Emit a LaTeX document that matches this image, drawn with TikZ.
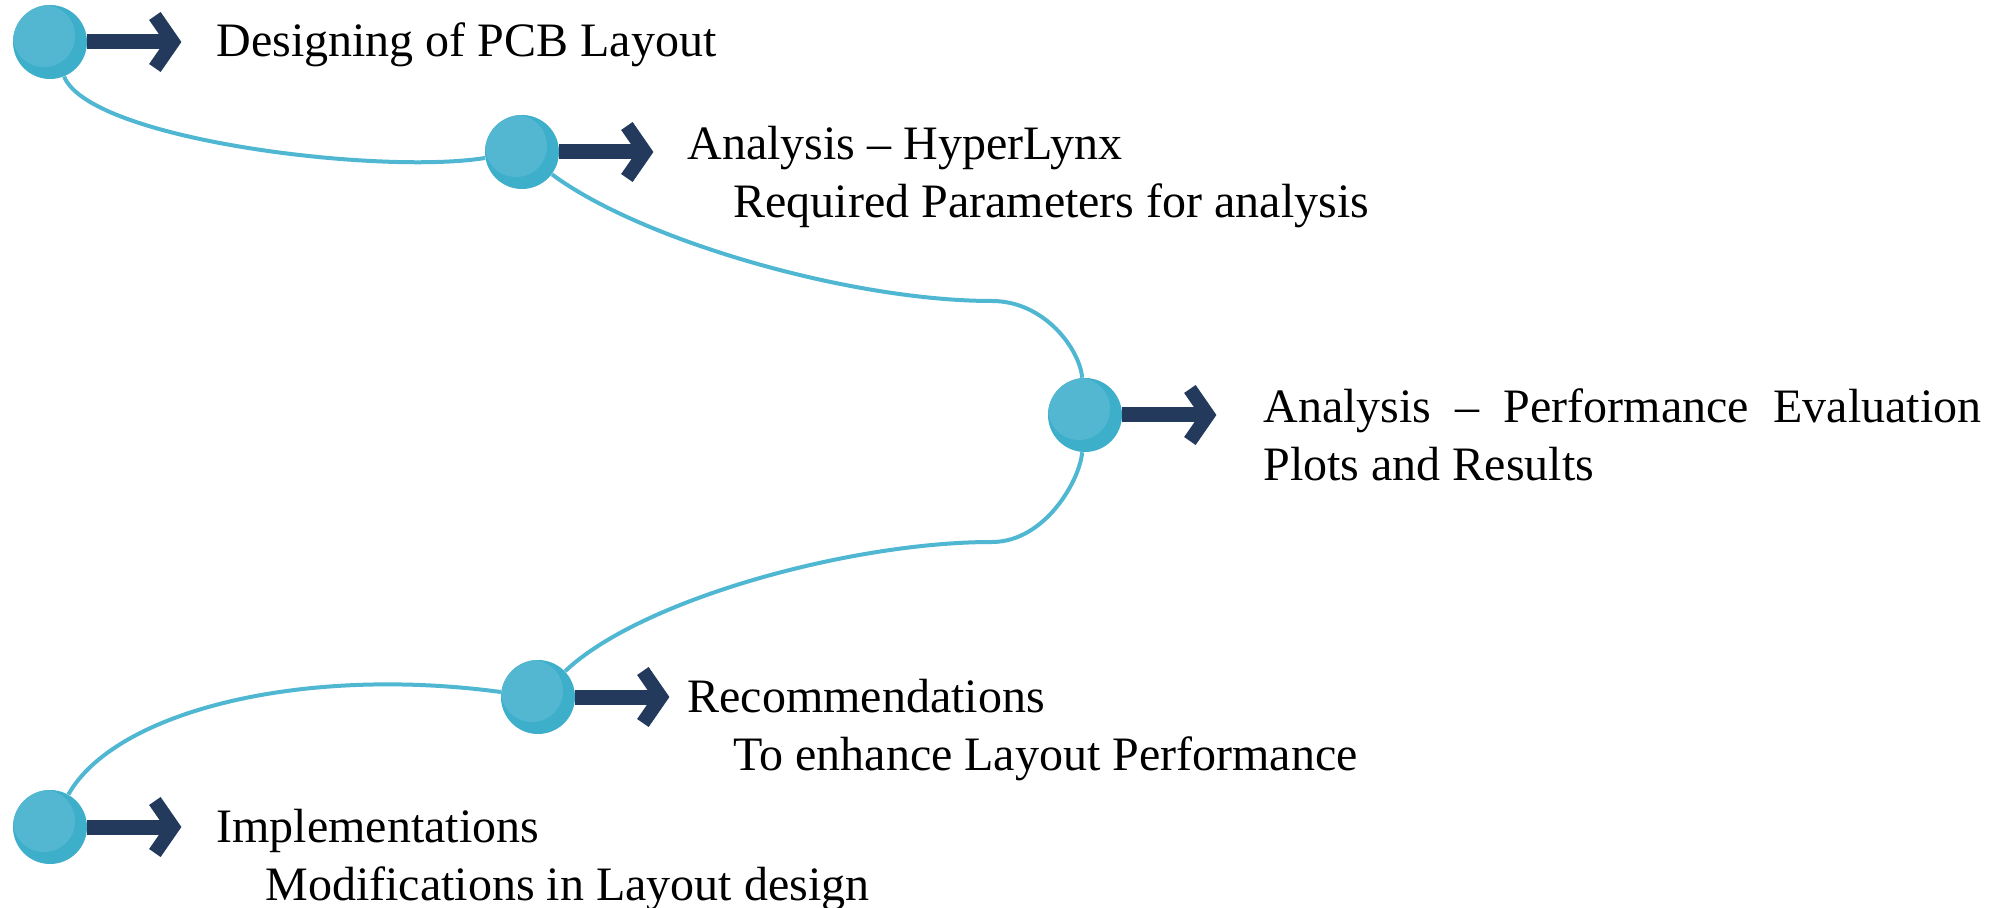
\documentclass[tikz,border=0pt]{standalone}
\usepackage{fontspec}
\setmainfont{Liberation Serif}
\usetikzlibrary{positioning, arrows.meta}
\definecolor{dotlight}{HTML}{53B7D1}
\definecolor{dotdark}{HTML}{3EAFCB}
\definecolor{wirecol}{HTML}{4FB7D2}
\definecolor{navy}{HTML}{233A5C}

\begin{document}
\begin{tikzpicture}[x=0.5pt, y=-0.5pt,
	dot/.style={circle, fill=dotdark, minimum size=37pt, inner sep=0pt,
		path picture={\fill[dotlight] ([shift={(-3pt,3pt)}]path picture bounding box.center) circle (15.5pt);}},
	wire/.style={draw=wirecol, line width=2pt},
	pointer/.style={draw=navy, line width=7.5pt, -{Straight Barb[length=9pt, width=26pt, line width=7pt]}},
	txt/.style={anchor=base west, inner sep=0pt, font=\fontsize{24}{29}\selectfont}]
				\fill[white] (0,0) rectangle (2007,908);
				\useasboundingbox (0,0) rectangle (2007,908);
				% steps
				\node[dot] (c1) at (50,42) {};
				\node[dot] (c2) at (522,152) {};
				\node[dot] (c3) at (1085,415) {};
				\node[dot] (c4) at (538,697) {};
				\node[dot] (c5) at (50,827) {};
				% bends of the path
				\coordinate (k1) at (992,301);
				\coordinate (k2) at (992,542);
				\draw[wire] (c1) .. controls (90,140) and (380,175) .. (c2);
				\draw[wire] (c2) .. controls (640,240) and (850,301) .. (k1) .. controls (1045,301) and (1080,350) .. (c3);
				\draw[wire] (c3) .. controls (1080,480) and (1045,542) .. (k2) .. controls (850,542) and (640,600) .. (c4);
				\draw[wire] (c4) .. controls (300,665) and (115,712) .. (c5);
				% arrows
				\coordinate[right=47pt of c1] (a1);
				\coordinate[right=47pt of c2] (a2);
				\coordinate[right=47pt of c3] (a3);
				\coordinate[right=47pt of c4] (a4);
				\coordinate[right=47pt of c5] (a5);
				\draw[pointer] (c1) -- (a1);
				\draw[pointer] (c2) -- (a2);
				\draw[pointer] (c3) -- (a3);
				\draw[pointer] (c4) -- (a4);
				\draw[pointer] (c5) -- (a5);
				% texts
				\node[txt] (t1) at (216,57) {Designing of PCB Layout};
				\node[txt] (t2) at (687,160) {Analysis – HyperLynx};
				\node[txt] (t2b) at (733,218) {Required Parameters for analysis};
				\node[txt] (t3) at (1263,423) {\makebox[359pt][s]{Analysis – Performance Evaluation}};
				\node[txt] (t3b) at (1263,481) {Plots and Results};
				\node[txt] (t4) at (687,712) {Recommendations};
				\node[txt] (t4b) at (733,770) {To enhance Layout Performance};
				\node[txt] (t5) at (216,842) {Implementations};
				\node[txt] (t5b) at (265,900) {Modifications in Layout design};
			\end{tikzpicture}
\end{document}
